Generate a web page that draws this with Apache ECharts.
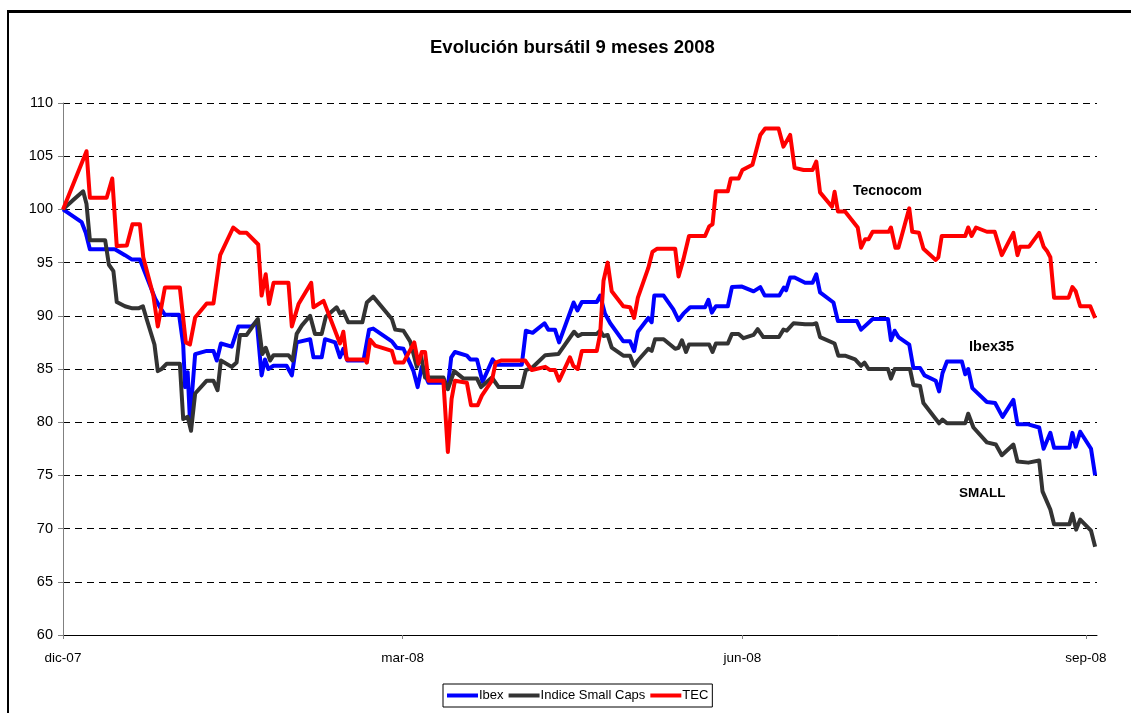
<!DOCTYPE html>
<html>
<head>
<meta charset="utf-8">
<title>Evolución bursátil 9 meses 2008</title>
<script src="https://cdn.jsdelivr.net/npm/echarts@6/dist/echarts.min.js"></script>
<style>
  html, body { margin: 0; padding: 0; background: #fff; }
  #frame {
    position: absolute; left: 7px; top: 10px; width: 1200px; height: 800px;
    border-left: 2px solid #000; border-top: 3px solid #000;
  }
  #chart { position: absolute; left: 0; top: 0; width: 1131px; height: 713px; }
</style>
</head>
<body>
<div id="frame"></div>
<div id="chart"></div>
<script>
// dias desde dic-07 (eje de fechas), valor base 100
const tickDays = [0, 91, 182, 274];
const tickLabels = ['dic-07', 'mar-08', 'jun-08', 'sep-08'];

const ibex = [
  [0, 100], [5, 98.8], [6.1, 97.8], [7.2, 96.25], [13.9, 96.25], [16.6, 95.7], [18.4, 95.3], [20.6, 95.3],
  [24.7, 91.6], [26, 90.8], [27.3, 90.1], [31.1, 90.1], [32.2, 87.3], [32.7, 83.3], [33.4, 84.7], [34, 80.2],
  [35.4, 86.4], [38.5, 86.7], [40.3, 86.7], [41.2, 85.8], [42.3, 87.4], [45.2, 87.1], [47, 89], [50.6, 89],
  [51.9, 89.5], [53.2, 84.4], [54.1, 85.9], [55, 85], [56.4, 85.3], [59.9, 85.3], [61.3, 84.4], [62.6, 87.5],
  [66.2, 87.8], [67.1, 86.1], [69.3, 86.1], [70.2, 87.8], [72.9, 87.5], [74.2, 86.1], [75.1, 86.9], [76.2, 85.8],
  [80.5, 85.8], [82, 88.7], [83.1, 88.8], [88.1, 87.6], [89.4, 87], [91.2, 86.9], [93.9, 84.8], [95, 83.3],
  [96.1, 85.2], [97.9, 83.7], [101.9, 83.7], [103.1, 83.3], [104, 86.1], [105, 86.6], [108.2, 86.25], [109.1, 85.9],
  [110.9, 85.9], [112.4, 83.8], [115.1, 85.9], [116.2, 85.4], [122.9, 85.4], [124, 88.6], [125.8, 88.4], [129, 89.3],
  [130, 88.7], [131.8, 88.7], [132.9, 87.5], [136.8, 91.25], [137.8, 90.5], [139, 91.3], [143, 91.3], [143.9, 91.9],
  [145.2, 90.2], [146.6, 89.3], [150.1, 87.6], [151.9, 87.6], [153, 86.7], [154, 88.5], [156.8, 89.8], [157.7, 89.4],
  [158.4, 91.9], [160.9, 91.9], [163.5, 90.6], [164.9, 89.6], [166.2, 90.2], [168, 90.8], [172, 90.8], [172.9, 91.5],
  [173.8, 90.3], [174.9, 90.9], [178.1, 90.9], [179.2, 92.7], [181.9, 92.75], [185, 92.3], [186.8, 92.7], [188, 91.9],
  [191.9, 91.9], [193.1, 92.65], [193.7, 92.4], [194.8, 93.6], [196, 93.6], [198.8, 93.1], [200.8, 93.1], [201.8, 93.9],
  [202.8, 92.2], [206.4, 91.25], [207.6, 89.5], [212.7, 89.5], [213.8, 88.7], [216.9, 89.7], [221, 89.7], [221.8, 87.7],
  [222.8, 88.6], [223.8, 88], [226.7, 87.3], [227.8, 85.1], [229.6, 85.1], [230.8, 84.4], [233.8, 83.9], [234.7, 82.9],
  [235.6, 84.6], [236.8, 85.7], [240.8, 85.7], [241.7, 84.5], [242.5, 85], [243.6, 83.2], [247.5, 81.9], [249.7, 81.8],
  [251.7, 80.5], [254.6, 82.1], [255.7, 79.8], [258.6, 79.8], [261.5, 79.5], [262.7, 77.5], [264.5, 79], [265.5, 77.6],
  [269.6, 77.6], [270.4, 79], [271.3, 77.7], [272.5, 79.1], [275.4, 77.5], [276.5, 75]
];

const smallCaps = [
  [0, 100], [2.8, 100.9], [5.4, 101.7], [6.3, 100.5], [7.2, 97.1], [11.3, 97.1], [12.3, 94.8], [13.5, 94.2],
  [14.4, 91.3], [16.6, 90.9], [18.6, 90.7], [20.2, 90.7], [21.4, 90.9], [22.4, 89.7], [24.5, 87.3], [25.4, 84.8],
  [26.4, 85], [27.8, 85.5], [31.3, 85.5], [32.2, 80.3], [33.4, 80.5], [34.3, 79.2], [35.4, 82.7], [38.5, 83.9],
  [40.3, 83.9], [41.4, 83], [42.3, 85.8], [45.2, 85.2], [46.5, 85.6], [47.4, 88.2], [49.2, 88.2], [52.2, 89.7],
  [53.4, 86.4], [54.3, 87], [55.5, 85.8], [56.4, 86.3], [60.4, 86.3], [61.5, 85.8], [62.6, 88.3], [64, 89.1],
  [66.2, 90], [67.5, 88.3], [69.3, 88.3], [70.4, 89.9], [73.3, 90.8], [74.2, 90.2], [75.1, 90.4], [76.4, 89.4],
  [80.2, 89.4], [81.4, 91.25], [83.1, 91.8], [88.1, 89.7], [89, 88.7], [91.2, 88.6], [93, 87.6], [94.8, 85.2],
  [95.9, 86.25], [97, 84.2], [101.9, 84.2], [103.1, 83.1], [104.8, 84.8], [107.3, 84.1], [110.9, 84.1], [112, 83.3],
  [114.9, 84.2], [116.7, 83.3], [122.9, 83.3], [124, 84.9], [125.6, 85.1], [129.2, 86.3], [132.7, 86.4], [136.9, 88.5],
  [138, 88.1], [139.1, 88.3], [143, 88.3], [143.9, 88.6], [144.8, 88.1], [145.9, 88.2], [147, 87], [150.1, 86.25],
  [151.9, 86.25], [153, 85.3], [154, 85.8], [156.8, 86.9], [157.7, 86.7], [158.6, 87.8], [160.9, 87.8], [164, 86.9],
  [164.9, 87], [165.8, 87.7], [166.9, 86.6], [167.7, 87.3], [173.1, 87.3], [174, 86.6], [174.9, 87.4], [178.1, 87.4],
  [179.2, 88.3], [181, 88.3], [182.3, 87.9], [185, 88.2], [186.1, 88.75], [187.6, 88], [191.8, 88], [193, 88.7],
  [193.9, 88.6], [195.7, 89.3], [198.8, 89.2], [200.8, 89.2], [201.8, 89.3], [202.8, 88], [206.7, 87.4], [207.7, 86.25],
  [209.5, 86.25], [212.2, 85.9], [213.8, 85.3], [214.7, 85.6], [215.8, 85], [221, 85], [221.8, 84.1], [222.8, 85],
  [226.9, 85], [227.8, 83.5], [229.6, 83.4], [230.5, 81.8], [233.6, 80.4], [234.7, 79.9], [235.6, 80.25], [236.8, 79.9],
  [241.7, 79.9], [242.5, 80.8], [243.9, 79.5], [247.5, 78.1], [249.9, 77.9], [251.5, 76.9], [254.6, 77.9], [255.7, 76.3],
  [258.6, 76.2], [261.5, 76.4], [262.4, 73.5], [264.5, 71.8], [265.5, 70.4], [269.6, 70.4], [270.4, 71.4], [271.4, 69.9],
  [272.5, 70.85], [275.4, 69.8], [276.5, 68.3]
];

const tec = [
  [0, 100], [6.3, 105.47], [7.2, 101.1], [11.7, 101.1], [13.2, 102.9], [14.4, 96.56], [17.1, 96.6], [18.6, 98.6],
  [20.6, 98.6], [21.5, 95.5], [24.2, 91.9], [25.4, 89], [27.3, 92.66], [31.3, 92.66], [32.9, 87.5], [34, 87.3],
  [35.4, 89.84], [38.5, 91.16], [40.3, 91.16], [42.1, 95.7], [45.6, 98.3], [47.4, 97.8], [49.2, 97.8], [52.3, 96.7],
  [53.2, 91.9], [54.3, 93.9], [55.2, 91.1], [56.4, 93.1], [60.4, 93.1], [61.3, 89], [63.1, 91.1], [66.5, 93.1],
  [67.1, 90.8], [69.8, 91.4], [74.2, 87.4], [75.1, 88.5], [76, 85.9], [80.9, 85.9], [81.4, 85.6], [82.3, 87.75],
  [83.6, 87.2], [88.1, 86.7], [89, 85.6], [91.2, 85.6], [94.1, 87.5], [95.2, 85.5], [96.1, 86.6], [97, 86.6],
  [97.9, 83.9], [101.9, 83.9], [103.1, 77.2], [104.1, 82.2], [105, 83.9], [108.2, 83.7], [109.3, 81.6], [111.1, 81.6],
  [112.2, 82.5], [114.9, 83.9], [115.9, 85.6], [117.5, 85.8], [123.8, 85.8], [125.6, 84.9], [129.2, 85.2], [130.5, 84.9],
  [131.8, 84.9], [132.9, 83.9], [135.8, 86.1], [136.7, 85.3], [137.9, 85], [139, 86.7], [143, 86.7], [143.9, 88.3],
  [144.8, 93.3], [145.9, 95], [147, 92.3], [150.1, 90.9], [151.9, 90.8], [153, 89.8], [154, 91.7], [156.8, 94.5],
  [157.9, 96], [159.1, 96.3], [164, 96.3], [164.9, 93.7], [166.2, 95.3], [167.7, 97.5], [172, 97.5], [173.1, 98.4],
  [174, 98.6], [174.9, 101.7], [178.1, 101.7], [178.9, 102.9], [181, 102.9], [182, 103.7], [184.7, 104.2], [186.8, 107],
  [188.1, 107.6], [191.7, 107.6], [193, 105.9], [194.8, 107], [196, 103.9], [198.4, 103.7], [200.8, 103.7], [201.8, 104.5],
  [202.8, 101.6], [206, 100.25], [206.7, 101.65], [207.6, 99.8], [209.5, 99.8], [212.9, 98.3], [213.8, 96.4], [214.9, 97.2],
  [215.8, 97.2], [216.9, 97.9], [221.2, 97.9], [221.8, 98.3], [223, 96.4], [223.8, 96.4], [226.7, 100.1], [227.5, 97.9],
  [229.3, 97.8], [230.5, 96.3], [233.8, 95.25], [234.5, 95.5], [235.4, 97.5], [241.7, 97.5], [242.5, 98.3], [243.4, 97.5],
  [244.6, 98.3], [247.5, 97.9], [249.6, 97.9], [251.5, 95.7], [254.6, 97.8], [255.7, 95.7], [256.4, 96.5], [258.8, 96.5],
  [261.5, 97.8], [262.7, 96.5], [263.6, 96.1], [264.5, 95.5], [265.5, 91.7], [269.4, 91.7], [270.4, 92.7], [271.3, 92.3],
  [272.5, 90.9], [275.2, 90.9], [276.5, 89.8]
];

const chart = echarts.init(document.getElementById('chart'), null, { renderer: 'canvas' });
const font = '"Liberation Sans", Arial, sans-serif';

function lineSeries(name, data, color) {
  return {
    name: name,
    type: 'line',
    data: data,
    showSymbol: false,
    symbol: 'none',
    lineStyle: { color: color, width: 4, join: 'round' },
    itemStyle: { color: color },
    animation: false
  };
}

chart.setOption({
  backgroundColor: 'transparent',
  animation: false,
  title: {
    text: 'Evolución bursátil 9 meses 2008',
    left: 430,
    top: 38,
    padding: 0,
    textStyle: { fontFamily: font, fontSize: 18.5, fontWeight: 'bold', color: '#000' }
  },
  legend: {
    data: ['Ibex', 'Indice Small Caps', 'TEC'],
    left: 443,
    top: 684,
    orient: 'horizontal',
    icon: 'rect',
    itemWidth: 31,
    itemHeight: 4,
    itemGap: 5,
    padding: [5, 4, 5, 4],
    borderColor: '#000',
    borderWidth: 1,
    textStyle: { fontFamily: font, fontSize: 13, color: '#000', padding: [0, 0, 0, -4] }
  },
  grid: { left: 63, top: 103, right: 34, bottom: 78, containLabel: false },
  xAxis: {
    type: 'value',
    min: 0,
    max: 277,
    axisLine: { show: true, lineStyle: { color: '#000', width: 1 } },
    axisTick: { show: true, customValues: tickDays, length: 4, lineStyle: { color: '#808080' } },
    axisLabel: {
      customValues: tickDays,
      formatter: function (v) {
        const i = tickDays.indexOf(v);
        return i >= 0 ? tickLabels[i] : '';
      },
      fontFamily: font, fontSize: 13.5, color: '#000', margin: 16
    },
    splitLine: { show: false }
  },
  yAxis: {
    type: 'value',
    min: 60,
    max: 110,
    interval: 5,
    axisLine: { show: true, lineStyle: { color: '#808080', width: 1 } },
    axisTick: { show: true, inside: false, length: 5, lineStyle: { color: '#808080' } },
    axisLabel: { fontFamily: font, fontSize: 14.5, color: '#000', margin: 10 },
    splitLine: {
      show: true,
      lineStyle: { color: '#000', width: 1, type: [7, 5] }
    }
  },
  graphic: [
    { type: 'text', left: 853, top: 184, style: { text: 'Tecnocom', font: 'bold 14px "Liberation Sans", Arial', fill: '#000' } },
    { type: 'text', left: 969, top: 339, style: { text: 'Ibex35', font: 'bold 14.5px "Liberation Sans", Arial', fill: '#000' } },
    { type: 'text', left: 959, top: 486, style: { text: 'SMALL', font: 'bold 13.5px "Liberation Sans", Arial', fill: '#000' } }
  ],
  series: [
    lineSeries('Ibex', ibex, '#0000ff'),
    lineSeries('Indice Small Caps', smallCaps, '#333333'),
    lineSeries('TEC', tec, '#ff0000')
  ]
});
</script>
</body>
</html>
